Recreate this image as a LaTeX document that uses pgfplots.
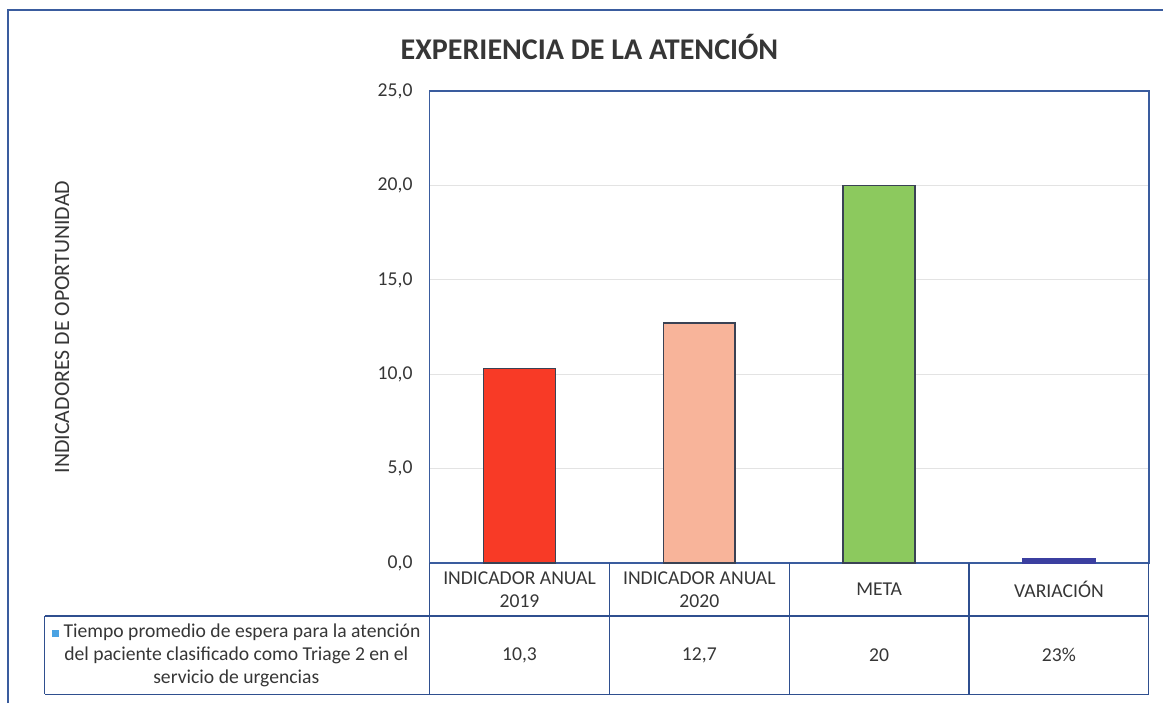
\documentclass[border=0pt]{standalone}
\usepackage{pgfplots}
\pgfplotsset{compat=1.18}
\usepackage{fontspec}
\setmainfont{Carlito}
\definecolor{frameblue}{HTML}{3A5C9E}
\definecolor{tabline}{HTML}{2F4F8F}
\definecolor{txt}{HTML}{363636}
\definecolor{cred}{HTML}{F83A26}
\definecolor{cpink}{HTML}{F8B49A}
\definecolor{cgreen}{HTML}{8CC95E}
\definecolor{cblue}{HTML}{3B3FA0}
\definecolor{legblue}{HTML}{4BA3E3}
\definecolor{bardraw}{HTML}{3A4254}
\begin{document}
\begin{tikzpicture}
\begin{axis}[
  scale only axis, width=359pt, height=235.5pt,
  xmin=-0.5, xmax=3.5, ymin=0, ymax=25,
  xtick=\empty,
  ytick={0,5,10,15,20,25},
  ymajorgrids, grid style={gray!22, line width=0.5pt},
  axis line style={frameblue, line width=0.7pt},
  major tick length=0pt,
  yticklabel style={/pgf/number format/fixed, /pgf/number format/fixed zerofill, /pgf/number format/precision=1, /pgf/number format/use comma, /pgf/number format/assume math mode=true,
    font=\fontsize{9.8}{12}\selectfont, text=txt, xshift=-5pt},
  ylabel={INDICADORES DE OPORTUNIDAD},
  ylabel style={at={(axis description cs:-0.511,0.5)}, anchor=center, font=\fontsize{10.9}{12}\selectfont, text=txt},
  clip=false,
  every axis plot/.append style={ybar, bar width=0.4, bar shift=0pt, draw=bardraw, line width=0.85pt},
]
\addplot[fill=cred] coordinates {(0,10.3)};
\addplot[fill=cpink] coordinates {(1,12.7)};
\addplot[fill=cgreen] coordinates {(2,20)};
\addplot[fill=cblue, draw=cblue] coordinates {(3,0.23)};

% table
\draw[tabline, line width=0.6pt] (axis cs:-0.5,0) -- (axis cs:-0.5,-6.95);
\draw[tabline, line width=0.6pt] (axis cs:0.5,0) -- (axis cs:0.5,-6.95);
\draw[tabline, line width=0.6pt] (axis cs:1.5,0) -- (axis cs:1.5,-6.95);
\draw[tabline, line width=0.6pt] (axis cs:2.5,0) -- (axis cs:2.5,-6.95);
\draw[tabline, line width=0.6pt] (axis cs:3.5,0) -- (axis cs:3.5,-6.95);
\draw[tabline, line width=0.6pt] (axis cs:-2.64,-2.81) -- (axis cs:3.5,-2.81);
\draw[tabline, line width=0.6pt] (axis cs:-2.64,-6.95) -- (axis cs:3.5,-6.95);
\draw[tabline, line width=0.6pt] (axis cs:-2.64,-2.81) -- (axis cs:-2.64,-6.95);

\begin{scope}[every node/.style={text=txt, font=\fontsize{9.8}{11.5}\selectfont, align=center, anchor=center}]
\node at (axis cs:0,-1.40) {INDICADOR ANUAL\\2019};
\node at (axis cs:1,-1.40) {INDICADOR ANUAL\\2020};
\node at (axis cs:2,-1.40) {META};
\node at (axis cs:3,-1.40) {VARIACIÓN};
\node at (axis cs:0,-4.88) {10,3};
\node at (axis cs:1,-4.88) {12,7};
\node at (axis cs:2,-4.88) {20};
\node at (axis cs:3,-4.88) {23\%};
\node at (axis cs:-1.575,-4.88) {{\color{legblue}\rule{3.5pt}{3.5pt}} Tiempo promedio de espera para la atención\\del paciente clasificado como Triage 2 en el\\servicio de urgencias};
\end{scope}

\node[text=txt, font=\bfseries\fontsize{15}{17}\selectfont, anchor=center] at (axis cs:0.389,27.34) {EXPERIENCIA DE LA ATENCIÓN};

% outer frame
\draw[frameblue, line width=1.1pt] (axis cs:-2.844,-7.43) -- (axis cs:-2.844,29.3) -- (axis cs:3.578,29.3);
\path (axis cs:-2.889,-7.43) rectangle (axis cs:3.578,29.83);
\end{axis}
\end{tikzpicture}
\end{document}
